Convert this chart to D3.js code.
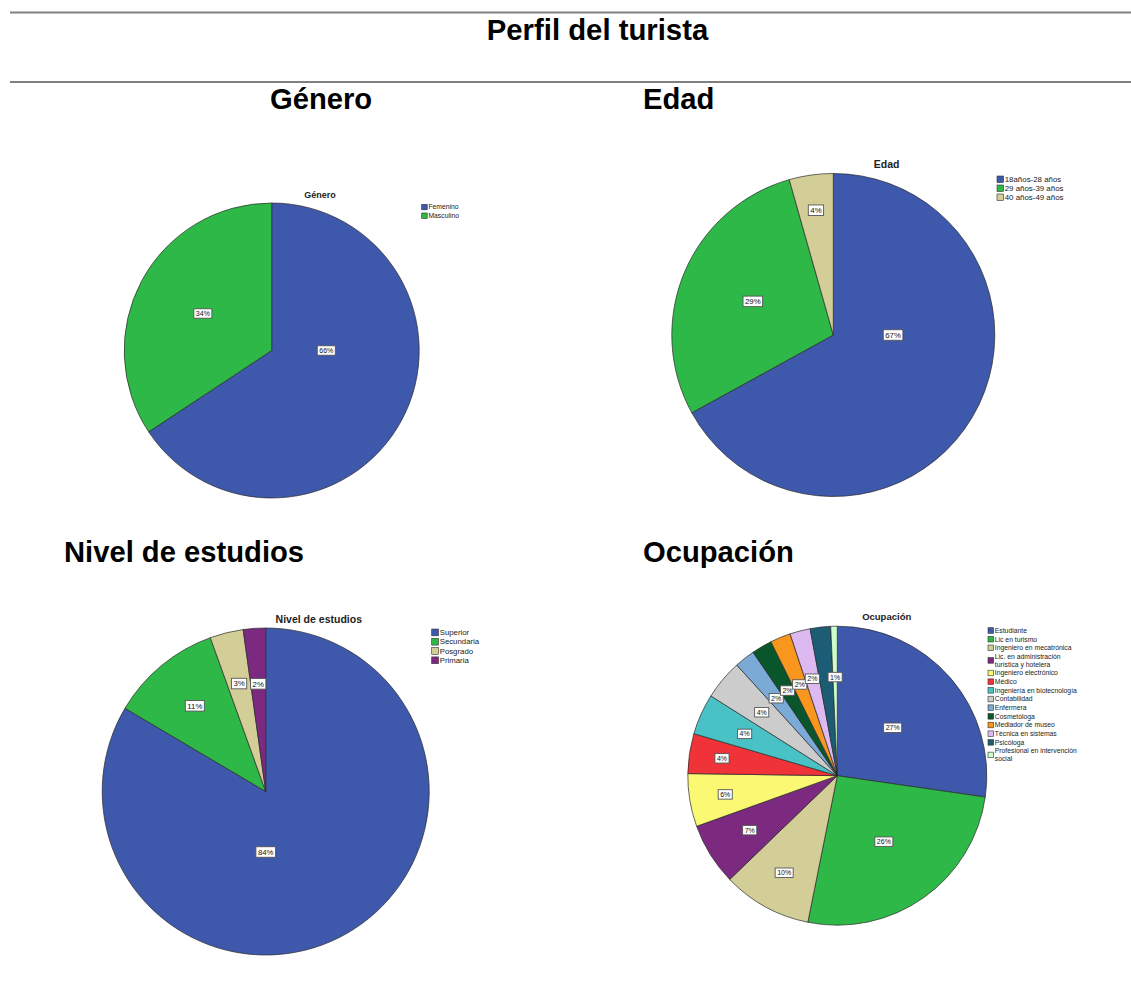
<!DOCTYPE html>
<html>
<head>
<meta charset="utf-8">
<script src="https://cdn.jsdelivr.net/npm/d3@7"></script>
<style>
  body { margin: 0; background: #fff; }
  text { font-family: "Liberation Sans", Arial, sans-serif; }
</style>
</head>
<body>
<svg id="chart" width="1131" height="985"></svg>
<script>
// datos (porcentajes)
var generoCats = ["Femenino", "Masculino"];
var generoVals = [65.7, 34.3];

var edadCats = ["18años-28 años", "29 años-39 años", "40 años-49 años"];
var edadVals = [67.0, 28.6, 4.4];

var nivelCats = ["Superior", "Secundaria", "Posgrado", "Primaria"];
var nivelVals = [83.5, 11.0, 3.3, 2.2];

var ocupCats = ["Estudiante", "Lic en turismo", "Ingeniero en mecatrónica",
    "Lic. en administración turística y hotelera", "Ingeniero electrónico", "Médico",
    "Ingeniería en biotecnología", "Contabilidad", "Enfermera", "Cosmetóloga",
    "Mediador de museo", "Técnica en sistemas", "Psicóloga",
    "Profesional en intervención social"];
var ocupVals = [27.2, 25.8, 9.6, 6.7, 5.7, 4.3, 4.4, 4.3, 2.2, 2.2, 2.2, 2.2, 2.2, 0.7];

// colores por defecto de SPSS
var palette = ["#3e58ac", "#2eb848", "#d3ce97", "#7b2a7f", "#fbf873", "#ef3338",
    "#48c2c5", "#cccccc", "#7aaad5", "#0a562c", "#f8961d", "#ddb9f1", "#1c5d75", "#ccffcc"];

var svg = d3.select("#chart");

// cabecera
svg.append("line").attr("x1", 10).attr("x2", 1131).attr("y1", 12.5).attr("y2", 12.5)
    .style("stroke", "#808080").style("stroke-width", 2);
svg.append("line").attr("x1", 10).attr("x2", 1131).attr("y1", 82).attr("y2", 82)
    .style("stroke", "#808080").style("stroke-width", 2);
svg.append("text").attr("x", 597.5).attr("y", 40).attr("text-anchor", "middle")
    .style("font-size", "29.3px").style("font-weight", "bold").text("Perfil del turista");

var secciones = [
    {t: "Género", x: 270, y: 109},
    {t: "Edad", x: 643, y: 109},
    {t: "Nivel de estudios", x: 64, y: 562},
    {t: "Ocupación", x: 643, y: 562}
];
svg.selectAll(".sec").data(secciones).enter().append("text")
    .attr("class", "sec")
    .attr("x", function(d) {return d.x;})
    .attr("y", function(d) {return d.y;})
    .style("font-size", "29.2px").style("font-weight", "bold")
    .text(function(d) {return d.t;});

// partir textos largos de la leyenda
function wrap(s, max) {
    if (s.length <= max) return [s];
    var cut = s.lastIndexOf(" ", max);
    return [s.slice(0, cut), s.slice(cut + 1)];
}

// B = etiqueta del sector mayor (se ajusta al eje mas cercano)
var B = -1;
var charts = [
    {title: "Género", cats: generoCats, vals: generoVals, cx: 271.7, cy: 350.5, r: 147.5,
     tx: 320, ty: 198, tfs: 9, lx: 421.7, ly: 204.3, sq: 5.5, row: 8.7, lfs: 6.8, pfs: 7,
     labR: [B, 0.53]},
    {title: "Edad", cats: edadCats, vals: edadVals, cx: 833.3, cy: 335, r: 161.5,
     tx: 886.7, ty: 168, tfs: 10.5, lx: 997, ly: 176, sq: 6.5, row: 9, lfs: 7.9, pfs: 7.8,
     labR: [B, 0.54, 0.78]},
    {title: "Nivel de estudios", cats: nivelCats, vals: nivelVals, cx: 265.7, cy: 791.5, r: 163.5,
     tx: 318.8, ty: 622.5, tfs: 10.5, lx: 431.7, ly: 629, sq: 6.8, row: 9.3, lfs: 7.8, pfs: 7.8,
     labR: [B, 0.68, 0.68, 0.66]},
    {title: "Ocupación", cats: ocupCats, vals: ocupVals, cx: 837.3, cy: 775.7, r: 149.5,
     tx: 886.7, ty: 620, tfs: 9.5, lx: 988, ly: 627.7, sq: 5.6, row: 8.67, lfs: 6.8, pfs: 7,
     labR: [0.49, 0.54, 0.74, 0.69, 0.76, 0.78, 0.68, 0.66, 0.66, 0.66, 0.66, 0.67, null, 0.66]}
];

charts.forEach(function(c) {
    var total = d3.sum(c.vals);
    var data = c.cats.map(function(k, i) {return {cat: k, val: c.vals[i], i: i};});
    var pie = d3.pie().sort(null).value(function(d) {return d.val;});
    var arc = d3.arc().innerRadius(0).outerRadius(c.r);
    var g = svg.append("g").attr("transform", "translate(" + c.cx + "," + c.cy + ")");

    var arcs = pie(data);
    g.selectAll(".slice").data(arcs).enter().append("path")
        .attr("class", "slice")
        .attr("d", arc)
        .style("fill", function(d) {return palette[d.data.i];})
        .style("stroke", "#2a2a2a")
        .style("stroke-width", 0.7);

    // etiquetas de porcentaje
    arcs.forEach(function(d) {
        var k = c.labR[d.index];
        if (k === null) return;
        var a = (d.startAngle + d.endAngle) / 2;
        var rr;
        if (k === B) {
            a = Math.round(a / (Math.PI / 2)) * (Math.PI / 2);
            rr = 0.37 * c.r;
        } else {
            rr = k * c.r;
        }
        var x = Math.sin(a) * rr, y = -Math.cos(a) * rr;
        var txt = Math.round(d.data.val / total * 100) + "%";
        var lab = g.append("g").attr("transform", "translate(" + x + "," + y + ")");
        var t = lab.append("text").attr("text-anchor", "middle").attr("dy", "0.35em")
            .style("font-size", c.pfs + "px").style("fill", "#111").text(txt);
        var w = t.node().getComputedTextLength() + 4, h = c.pfs * 1.35;
        lab.insert("rect", "text").attr("x", -w / 2).attr("y", -h / 2)
            .attr("width", w).attr("height", h)
            .style("fill", "#fff").style("stroke", "#555").style("stroke-width", 0.9);
    });

    // titulo del grafico
    svg.append("text").attr("x", c.tx).attr("y", c.ty).attr("text-anchor", "middle")
        .style("font-size", c.tfs + "px").style("font-weight", "bold").style("fill", "#222")
        .text(c.title);

    // leyenda
    var yy = c.ly;
    var lineH = c.lfs * 1.15;
    data.forEach(function(d) {
        var lines = wrap(d.cat, 28);
        var extra = (lines.length - 1) * lineH;
        var sy = yy + extra / 2;
        svg.append("rect").attr("x", c.lx).attr("y", sy)
            .attr("width", c.sq).attr("height", c.sq)
            .style("fill", palette[d.i]).style("stroke", "#333").style("stroke-width", 0.6);
        lines.forEach(function(s, j) {
            svg.append("text")
                .attr("x", c.lx + c.sq + 1.2)
                .attr("y", yy + c.sq / 2 + j * lineH)
                .attr("dy", "0.35em")
                .style("font-size", c.lfs + "px").style("fill", "#222")
                .text(s);
        });
        yy += c.row + extra;
    });
});
</script>
</body>
</html>
